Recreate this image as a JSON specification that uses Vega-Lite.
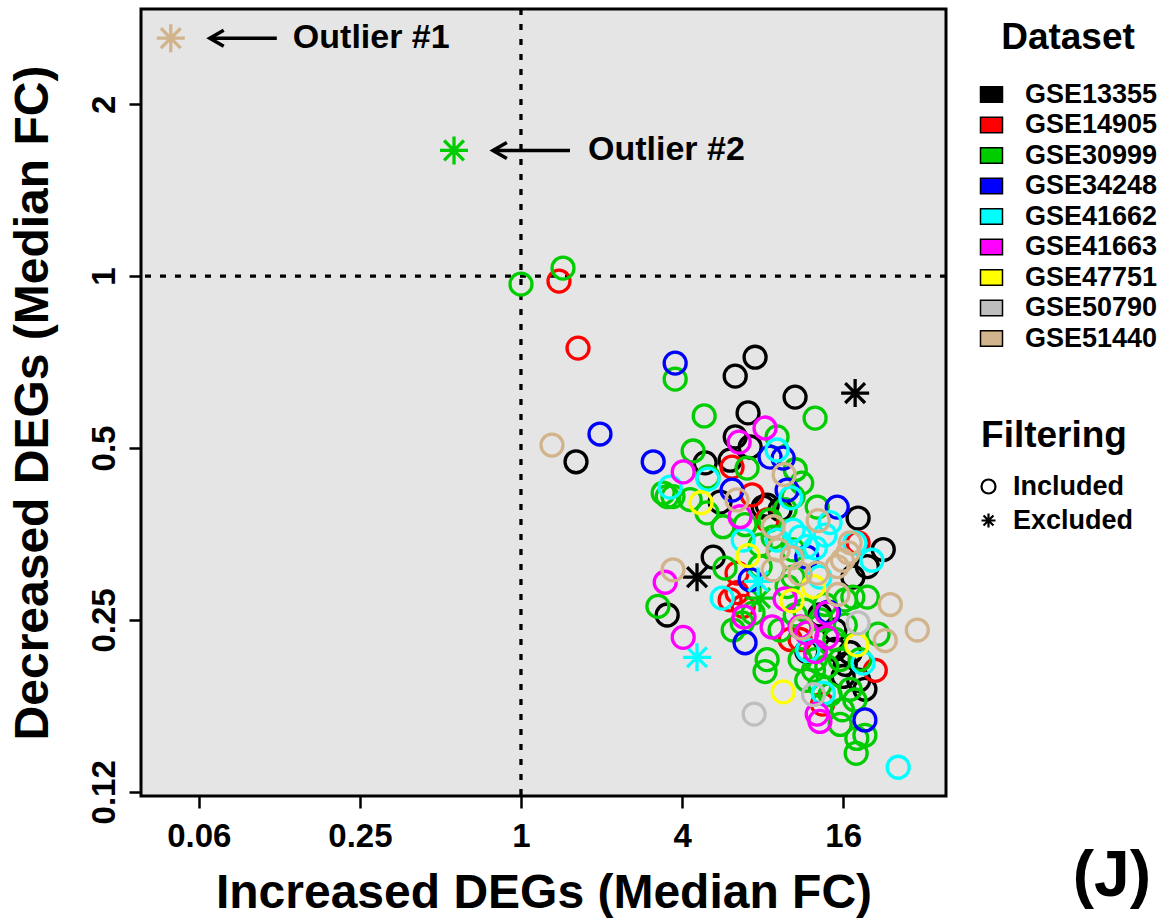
{
  "$schema": "https://vega.github.io/schema/vega-lite/v6.json",
  "autosize": {"type": "none"},
  "padding": {"left": 141, "top": 9, "right": 222, "bottom": 123},
  "width": 805,
  "height": 787,
  "background": "white",
  "title": {"text": "(J)", "orient": "bottom", "anchor": "end", "frame": "group", "fontSize": 64, "fontWeight": "bold", "font": "Liberation Sans", "color": "black", "offset": 0, "dx": 205, "dy": -72},
  "config": {
    "font": "Liberation Sans",
    "view": {"fill": "#E5E5E5", "stroke": "black", "strokeWidth": 3},
    "axis": {"domain": false, "grid": false, "tickColor": "black", "tickWidth": 2.5, "tickSize": 12, "labelFont": "Liberation Sans", "labelFontSize": 33, "labelFontWeight": "bold", "labelColor": "black", "titleFont": "Liberation Sans", "titleFontSize": 48, "titleFontWeight": "bold", "titleColor": "black", "labelFlush": false, "labelOverlap": false},
    "legend": {"labelFont": "Liberation Sans", "labelFontSize": 27, "labelFontWeight": "bold", "labelColor": "black", "titleFont": "Liberation Sans", "titleFontSize": 37, "titleFontWeight": "bold", "titleColor": "black", "titleAnchor": "middle", "padding": 0}
  },
  "datasets": {
    "reference": [{"fc": 1}],
    "degs": [
      {"dataset": "GSE13355", "filtering": "Included", "increased": 1.606, "decreased": 0.473},
      {"dataset": "GSE13355", "filtering": "Included", "increased": 6.32, "decreased": 0.668},
      {"dataset": "GSE13355", "filtering": "Included", "increased": 7.5, "decreased": 0.721},
      {"dataset": "GSE13355", "filtering": "Included", "increased": 10.58, "decreased": 0.614},
      {"dataset": "GSE13355", "filtering": "Included", "increased": 7.06, "decreased": 0.576},
      {"dataset": "GSE13355", "filtering": "Included", "increased": 6.32, "decreased": 0.523},
      {"dataset": "GSE13355", "filtering": "Included", "increased": 7.19, "decreased": 0.502},
      {"dataset": "GSE13355", "filtering": "Included", "increased": 4.88, "decreased": 0.471},
      {"dataset": "GSE13355", "filtering": "Included", "increased": 6.05, "decreased": 0.476},
      {"dataset": "GSE13355", "filtering": "Included", "increased": 8.04, "decreased": 0.394},
      {"dataset": "GSE13355", "filtering": "Included", "increased": 5.55, "decreased": 0.402},
      {"dataset": "GSE13355", "filtering": "Included", "increased": 8.32, "decreased": 0.397},
      {"dataset": "GSE13355", "filtering": "Included", "increased": 9.3, "decreased": 0.39},
      {"dataset": "GSE13355", "filtering": "Included", "increased": 18.2, "decreased": 0.377},
      {"dataset": "GSE13355", "filtering": "Included", "increased": 22.6, "decreased": 0.332},
      {"dataset": "GSE13355", "filtering": "Included", "increased": 17.4, "decreased": 0.297},
      {"dataset": "GSE13355", "filtering": "Included", "increased": 19.7, "decreased": 0.31},
      {"dataset": "GSE13355", "filtering": "Included", "increased": 5.23, "decreased": 0.322},
      {"dataset": "GSE13355", "filtering": "Included", "increased": 3.52, "decreased": 0.255},
      {"dataset": "GSE13355", "filtering": "Included", "increased": 18.3, "decreased": 0.196},
      {"dataset": "GSE13355", "filtering": "Included", "increased": 11.7, "decreased": 0.22},
      {"dataset": "GSE13355", "filtering": "Included", "increased": 16.0, "decreased": 0.199},
      {"dataset": "GSE13355", "filtering": "Included", "increased": 17.0, "decreased": 0.219},
      {"dataset": "GSE13355", "filtering": "Included", "increased": 14.9, "decreased": 0.222},
      {"dataset": "GSE13355", "filtering": "Included", "increased": 16.3, "decreased": 0.209},
      {"dataset": "GSE13355", "filtering": "Included", "increased": 19.3, "decreased": 0.189},
      {"dataset": "GSE13355", "filtering": "Included", "increased": 14.9, "decreased": 0.24},
      {"dataset": "GSE13355", "filtering": "Included", "increased": 13.1, "decreased": 0.255},
      {"dataset": "GSE13355", "filtering": "Excluded", "increased": 17.74, "decreased": 0.624},
      {"dataset": "GSE13355", "filtering": "Excluded", "increased": 4.55, "decreased": 0.297},
      {"dataset": "GSE14905", "filtering": "Included", "increased": 1.387, "decreased": 0.98},
      {"dataset": "GSE14905", "filtering": "Included", "increased": 1.634, "decreased": 0.748},
      {"dataset": "GSE14905", "filtering": "Included", "increased": 6.15, "decreased": 0.463},
      {"dataset": "GSE14905", "filtering": "Included", "increased": 7.31, "decreased": 0.414},
      {"dataset": "GSE14905", "filtering": "Included", "increased": 8.32, "decreased": 0.374},
      {"dataset": "GSE14905", "filtering": "Included", "increased": 6.42, "decreased": 0.302},
      {"dataset": "GSE14905", "filtering": "Included", "increased": 6.05, "decreased": 0.271},
      {"dataset": "GSE14905", "filtering": "Included", "increased": 6.77, "decreased": 0.264},
      {"dataset": "GSE14905", "filtering": "Included", "increased": 6.42, "decreased": 0.279},
      {"dataset": "GSE14905", "filtering": "Included", "increased": 18.2, "decreased": 0.341},
      {"dataset": "GSE14905", "filtering": "Included", "increased": 21.1, "decreased": 0.204},
      {"dataset": "GSE14905", "filtering": "Included", "increased": 13.4, "decreased": 0.178},
      {"dataset": "GSE14905", "filtering": "Included", "increased": 11.05, "decreased": 0.231},
      {"dataset": "GSE14905", "filtering": "Included", "increased": 10.14, "decreased": 0.231},
      {"dataset": "GSE30999", "filtering": "Included", "increased": 1.0, "decreased": 0.968},
      {"dataset": "GSE30999", "filtering": "Included", "increased": 1.436, "decreased": 1.033},
      {"dataset": "GSE30999", "filtering": "Included", "increased": 3.77, "decreased": 0.66},
      {"dataset": "GSE30999", "filtering": "Included", "increased": 4.84, "decreased": 0.569},
      {"dataset": "GSE30999", "filtering": "Included", "increased": 12.57, "decreased": 0.564},
      {"dataset": "GSE30999", "filtering": "Included", "increased": 4.4, "decreased": 0.494},
      {"dataset": "GSE30999", "filtering": "Included", "increased": 3.4, "decreased": 0.417},
      {"dataset": "GSE30999", "filtering": "Included", "increased": 3.52, "decreased": 0.411},
      {"dataset": "GSE30999", "filtering": "Included", "increased": 3.7, "decreased": 0.411},
      {"dataset": "GSE30999", "filtering": "Included", "increased": 5.0, "decreased": 0.445},
      {"dataset": "GSE30999", "filtering": "Included", "increased": 7.0, "decreased": 0.461},
      {"dataset": "GSE30999", "filtering": "Included", "increased": 4.96, "decreased": 0.385},
      {"dataset": "GSE30999", "filtering": "Included", "increased": 5.69, "decreased": 0.364},
      {"dataset": "GSE30999", "filtering": "Included", "increased": 8.76, "decreased": 0.349},
      {"dataset": "GSE30999", "filtering": "Included", "increased": 9.06, "decreased": 0.523},
      {"dataset": "GSE30999", "filtering": "Included", "increased": 11.2, "decreased": 0.434},
      {"dataset": "GSE30999", "filtering": "Included", "increased": 10.4, "decreased": 0.411},
      {"dataset": "GSE30999", "filtering": "Included", "increased": 12.8, "decreased": 0.394},
      {"dataset": "GSE30999", "filtering": "Included", "increased": 5.79, "decreased": 0.308},
      {"dataset": "GSE30999", "filtering": "Included", "increased": 10.4, "decreased": 0.3315},
      {"dataset": "GSE30999", "filtering": "Included", "increased": 3.25, "decreased": 0.264},
      {"dataset": "GSE30999", "filtering": "Included", "increased": 7.83, "decreased": 0.31},
      {"dataset": "GSE30999", "filtering": "Included", "increased": 9.88, "decreased": 0.286},
      {"dataset": "GSE30999", "filtering": "Included", "increased": 7.37, "decreased": 0.257},
      {"dataset": "GSE30999", "filtering": "Included", "increased": 6.71, "decreased": 0.247},
      {"dataset": "GSE30999", "filtering": "Included", "increased": 6.21, "decreased": 0.24},
      {"dataset": "GSE30999", "filtering": "Included", "increased": 8.32, "decreased": 0.213},
      {"dataset": "GSE30999", "filtering": "Included", "increased": 8.17, "decreased": 0.203},
      {"dataset": "GSE30999", "filtering": "Included", "increased": 15.9, "decreased": 0.174},
      {"dataset": "GSE30999", "filtering": "Included", "increased": 19.3, "decreased": 0.157},
      {"dataset": "GSE30999", "filtering": "Included", "increased": 18.0, "decreased": 0.155},
      {"dataset": "GSE30999", "filtering": "Included", "increased": 17.9, "decreased": 0.146},
      {"dataset": "GSE30999", "filtering": "Included", "increased": 21.6, "decreased": 0.236},
      {"dataset": "GSE30999", "filtering": "Included", "increased": 17.4, "decreased": 0.274},
      {"dataset": "GSE30999", "filtering": "Included", "increased": 19.7, "decreased": 0.274},
      {"dataset": "GSE30999", "filtering": "Included", "increased": 13.9, "decreased": 0.207},
      {"dataset": "GSE30999", "filtering": "Included", "increased": 15.6, "decreased": 0.213},
      {"dataset": "GSE30999", "filtering": "Included", "increased": 12.4, "decreased": 0.204},
      {"dataset": "GSE30999", "filtering": "Included", "increased": 11.7, "decreased": 0.196},
      {"dataset": "GSE30999", "filtering": "Included", "increased": 10.4, "decreased": 0.297},
      {"dataset": "GSE30999", "filtering": "Included", "increased": 13.13, "decreased": 0.25},
      {"dataset": "GSE30999", "filtering": "Included", "increased": 16.3, "decreased": 0.245},
      {"dataset": "GSE30999", "filtering": "Included", "increased": 14.9, "decreased": 0.231},
      {"dataset": "GSE30999", "filtering": "Included", "increased": 11.5, "decreased": 0.26},
      {"dataset": "GSE30999", "filtering": "Included", "increased": 17.0, "decreased": 0.189},
      {"dataset": "GSE30999", "filtering": "Included", "increased": 14.3, "decreased": 0.185},
      {"dataset": "GSE30999", "filtering": "Included", "increased": 12.6, "decreased": 0.213},
      {"dataset": "GSE30999", "filtering": "Included", "increased": 10.6, "decreased": 0.458},
      {"dataset": "GSE30999", "filtering": "Included", "increased": 9.71, "decreased": 0.39},
      {"dataset": "GSE30999", "filtering": "Included", "increased": 6.88, "decreased": 0.367},
      {"dataset": "GSE30999", "filtering": "Included", "increased": 7.83, "decreased": 0.338},
      {"dataset": "GSE30999", "filtering": "Included", "increased": 16.3, "decreased": 0.271},
      {"dataset": "GSE30999", "filtering": "Included", "increased": 13.7, "decreased": 0.266},
      {"dataset": "GSE30999", "filtering": "Included", "increased": 18.5, "decreased": 0.213},
      {"dataset": "GSE30999", "filtering": "Included", "increased": 13.1, "decreased": 0.192},
      {"dataset": "GSE30999", "filtering": "Included", "increased": 11.05, "decreased": 0.213},
      {"dataset": "GSE30999", "filtering": "Included", "increased": 10.6, "decreased": 0.255},
      {"dataset": "GSE30999", "filtering": "Included", "increased": 8.53, "decreased": 0.374},
      {"dataset": "GSE30999", "filtering": "Included", "increased": 4.29, "decreased": 0.406},
      {"dataset": "GSE30999", "filtering": "Included", "increased": 17.7, "decreased": 0.181},
      {"dataset": "GSE30999", "filtering": "Included", "increased": 15.6, "decreased": 0.164},
      {"dataset": "GSE30999", "filtering": "Included", "increased": 9.3, "decreased": 0.24},
      {"dataset": "GSE30999", "filtering": "Excluded", "increased": 0.562, "decreased": 1.66},
      {"dataset": "GSE30999", "filtering": "Excluded", "increased": 7.83, "decreased": 0.273},
      {"dataset": "GSE34248", "filtering": "Included", "increased": 1.974, "decreased": 0.529},
      {"dataset": "GSE34248", "filtering": "Included", "increased": 3.77, "decreased": 0.704},
      {"dataset": "GSE34248", "filtering": "Included", "increased": 3.12, "decreased": 0.473},
      {"dataset": "GSE34248", "filtering": "Included", "increased": 6.15, "decreased": 0.422},
      {"dataset": "GSE34248", "filtering": "Included", "increased": 8.53, "decreased": 0.482},
      {"dataset": "GSE34248", "filtering": "Included", "increased": 9.55, "decreased": 0.48},
      {"dataset": "GSE34248", "filtering": "Included", "increased": 9.88, "decreased": 0.422},
      {"dataset": "GSE34248", "filtering": "Included", "increased": 15.2, "decreased": 0.394},
      {"dataset": "GSE34248", "filtering": "Included", "increased": 7.19, "decreased": 0.294},
      {"dataset": "GSE34248", "filtering": "Included", "increased": 6.88, "decreased": 0.228},
      {"dataset": "GSE34248", "filtering": "Included", "increased": 14.1, "decreased": 0.258},
      {"dataset": "GSE34248", "filtering": "Included", "increased": 19.3, "decreased": 0.167},
      {"dataset": "GSE34248", "filtering": "Included", "increased": 11.7, "decreased": 0.322},
      {"dataset": "GSE41662", "filtering": "Included", "increased": 3.61, "decreased": 0.427},
      {"dataset": "GSE41662", "filtering": "Included", "increased": 5.0, "decreased": 0.441},
      {"dataset": "GSE41662", "filtering": "Included", "increased": 9.06, "decreased": 0.496},
      {"dataset": "GSE41662", "filtering": "Included", "increased": 10.2, "decreased": 0.409},
      {"dataset": "GSE41662", "filtering": "Included", "increased": 14.3, "decreased": 0.37},
      {"dataset": "GSE41662", "filtering": "Included", "increased": 17.7, "decreased": 0.341},
      {"dataset": "GSE41662", "filtering": "Included", "increased": 11.05, "decreased": 0.349},
      {"dataset": "GSE41662", "filtering": "Included", "increased": 6.77, "decreased": 0.345},
      {"dataset": "GSE41662", "filtering": "Included", "increased": 11.7, "decreased": 0.336},
      {"dataset": "GSE41662", "filtering": "Included", "increased": 13.1, "decreased": 0.297},
      {"dataset": "GSE41662", "filtering": "Included", "increased": 20.5, "decreased": 0.318},
      {"dataset": "GSE41662", "filtering": "Included", "increased": 5.65, "decreased": 0.273},
      {"dataset": "GSE41662", "filtering": "Included", "increased": 13.5, "decreased": 0.186},
      {"dataset": "GSE41662", "filtering": "Included", "increased": 19.0, "decreased": 0.21},
      {"dataset": "GSE41662", "filtering": "Included", "increased": 11.8, "decreased": 0.221},
      {"dataset": "GSE41662", "filtering": "Included", "increased": 25.7, "decreased": 0.138},
      {"dataset": "GSE41662", "filtering": "Included", "increased": 12.6, "decreased": 0.334},
      {"dataset": "GSE41662", "filtering": "Included", "increased": 13.7, "decreased": 0.352},
      {"dataset": "GSE41662", "filtering": "Included", "increased": 10.4, "decreased": 0.359},
      {"dataset": "GSE41662", "filtering": "Included", "increased": 9.06, "decreased": 0.345},
      {"dataset": "GSE41662", "filtering": "Excluded", "increased": 4.55, "decreased": 0.215},
      {"dataset": "GSE41662", "filtering": "Excluded", "increased": 7.7, "decreased": 0.292},
      {"dataset": "GSE41663", "filtering": "Included", "increased": 4.04, "decreased": 0.454},
      {"dataset": "GSE41663", "filtering": "Included", "increased": 8.17, "decreased": 0.542},
      {"dataset": "GSE41663", "filtering": "Included", "increased": 6.54, "decreased": 0.512},
      {"dataset": "GSE41663", "filtering": "Included", "increased": 6.59, "decreased": 0.379},
      {"dataset": "GSE41663", "filtering": "Included", "increased": 3.46, "decreased": 0.291},
      {"dataset": "GSE41663", "filtering": "Included", "increased": 4.04, "decreased": 0.233},
      {"dataset": "GSE41663", "filtering": "Included", "increased": 6.82, "decreased": 0.253},
      {"dataset": "GSE41663", "filtering": "Included", "increased": 8.68, "decreased": 0.243},
      {"dataset": "GSE41663", "filtering": "Included", "increased": 9.71, "decreased": 0.272},
      {"dataset": "GSE41663", "filtering": "Included", "increased": 11.7, "decreased": 0.237},
      {"dataset": "GSE41663", "filtering": "Included", "increased": 12.6, "decreased": 0.22},
      {"dataset": "GSE41663", "filtering": "Included", "increased": 13.9, "decreased": 0.233},
      {"dataset": "GSE41663", "filtering": "Included", "increased": 12.8, "decreased": 0.171},
      {"dataset": "GSE41663", "filtering": "Included", "increased": 13.1, "decreased": 0.166},
      {"dataset": "GSE41663", "filtering": "Included", "increased": 11.05, "decreased": 0.243},
      {"dataset": "GSE41663", "filtering": "Included", "increased": 13.9, "decreased": 0.257},
      {"dataset": "GSE47751", "filtering": "Included", "increased": 4.71, "decreased": 0.401},
      {"dataset": "GSE47751", "filtering": "Included", "increased": 7.06, "decreased": 0.324},
      {"dataset": "GSE47751", "filtering": "Included", "increased": 10.3, "decreased": 0.27},
      {"dataset": "GSE47751", "filtering": "Included", "increased": 12.4, "decreased": 0.286},
      {"dataset": "GSE47751", "filtering": "Included", "increased": 18.0, "decreased": 0.226},
      {"dataset": "GSE47751", "filtering": "Included", "increased": 9.55, "decreased": 0.187},
      {"dataset": "GSE50790", "filtering": "Included", "increased": 7.44, "decreased": 0.171},
      {"dataset": "GSE50790", "filtering": "Included", "increased": 12.4, "decreased": 0.185},
      {"dataset": "GSE50790", "filtering": "Included", "increased": 18.2, "decreased": 0.247},
      {"dataset": "GSE51440", "filtering": "Included", "increased": 1.306, "decreased": 0.506},
      {"dataset": "GSE51440", "filtering": "Included", "increased": 6.42, "decreased": 0.4055},
      {"dataset": "GSE51440", "filtering": "Included", "increased": 9.63, "decreased": 0.449},
      {"dataset": "GSE51440", "filtering": "Included", "increased": 8.76, "decreased": 0.364},
      {"dataset": "GSE51440", "filtering": "Included", "increased": 12.9, "decreased": 0.373},
      {"dataset": "GSE51440", "filtering": "Included", "increased": 17.0, "decreased": 0.341},
      {"dataset": "GSE51440", "filtering": "Included", "increased": 16.7, "decreased": 0.328},
      {"dataset": "GSE51440", "filtering": "Included", "increased": 15.9, "decreased": 0.318},
      {"dataset": "GSE51440", "filtering": "Included", "increased": 15.2, "decreased": 0.31},
      {"dataset": "GSE51440", "filtering": "Included", "increased": 9.14, "decreased": 0.3315},
      {"dataset": "GSE51440", "filtering": "Included", "increased": 8.76, "decreased": 0.306},
      {"dataset": "GSE51440", "filtering": "Included", "increased": 11.05, "decreased": 0.301},
      {"dataset": "GSE51440", "filtering": "Included", "increased": 12.8, "decreased": 0.302},
      {"dataset": "GSE51440", "filtering": "Included", "increased": 15.3, "decreased": 0.277},
      {"dataset": "GSE51440", "filtering": "Included", "increased": 11.2, "decreased": 0.242},
      {"dataset": "GSE51440", "filtering": "Included", "increased": 24.0, "decreased": 0.266},
      {"dataset": "GSE51440", "filtering": "Included", "increased": 30.3, "decreased": 0.24},
      {"dataset": "GSE51440", "filtering": "Included", "increased": 23.0, "decreased": 0.23},
      {"dataset": "GSE51440", "filtering": "Included", "increased": 3.7, "decreased": 0.306},
      {"dataset": "GSE51440", "filtering": "Included", "increased": 10.3, "decreased": 0.321},
      {"dataset": "GSE51440", "filtering": "Excluded", "increased": 0.0491, "decreased": 2.61}
    ],
    "arrows": [
      {"label": "Outlier #1", "tip": 0.0687, "tail": 0.1223, "text_at": 0.1404, "level": 2.61},
      {"label": "Outlier #2", "tip": 0.7856, "tail": 1.525, "text_at": 1.78, "level": 1.66}
    ]
  },
  "layer": [
    {
      "data": {"name": "reference"},
      "mark": {"type": "rule", "color": "black", "strokeWidth": 3.3, "strokeDash": [6, 9]},
      "encoding": {"x": {"field": "fc", "type": "quantitative"}}
    },
    {
      "data": {"name": "reference"},
      "mark": {"type": "rule", "color": "black", "strokeWidth": 3.3, "strokeDash": [6, 9]},
      "encoding": {"y": {"field": "fc", "type": "quantitative"}}
    },
    {
      "data": {"name": "degs"},
      "mark": {"type": "point", "filled": false, "strokeWidth": 3.3, "opacity": 1},
      "encoding": {
        "x": {
          "field": "increased", "type": "quantitative",
          "title": "Increased DEGs (Median FC)",
          "scale": {"type": "log", "base": 2, "domain": [0.038, 38.78], "nice": false, "zero": false},
          "axis": {"values": [0.0625, 0.25, 1, 4, 16], "labelExpr": "datum.value == 0.0625 ? '0.06' : datum.value == 0.25 ? '0.25' : datum.value == 1 ? '1' : datum.value == 4 ? '4' : '16'", "labelPadding": 12, "titlePadding": 16}
        },
        "y": {
          "field": "decreased", "type": "quantitative",
          "title": "Decreased DEGs (Median FC)",
          "scale": {"type": "log", "base": 2, "domain": [0.1229, 2.936], "nice": false, "zero": false},
          "axis": {"values": [0.125, 0.25, 0.5, 1, 2], "labelExpr": "datum.value == 0.125 ? '0.12' : datum.value == 0.25 ? '0.25' : datum.value == 0.5 ? '0.5' : datum.value == 1 ? '1' : '2'", "labelAngle": 270, "labelAlign": "center", "labelBaseline": "bottom", "labelPadding": 8, "titlePadding": 31}
        },
        "color": {
          "field": "dataset", "type": "nominal",
          "scale": {"range": ["#000000", "#FF0000", "#00CD00", "#0000FF", "#00FFFF", "#FF00FF", "#FFFF00", "#BEBEBE", "#D2B48C"]},
          "legend": null
        },
        "shape": {
          "field": "filtering", "type": "nominal",
          "scale": {"domain": ["Included", "Excluded"], "range": ["circle", "M0,-1L0,1M-1,0L1,0M-0.707,-0.707L0.707,0.707M-0.707,0.707L0.707,-0.707"]},
          "legend": {
            "title": "Filtering", "orient": "none", "legendX": 834, "legendY": 409,
            "symbolSize": 196, "symbolStrokeColor": "black", "symbolStrokeWidth": 2.2, "symbolFillColor": "transparent", "labelOffset": 11, "rowPadding": 6, "titlePadding": 18
          }
        },
        "size": {"condition": {"test": "datum.filtering === 'Excluded'", "value": 784}, "value": 483}
      }
    },
    {
      "data": {"name": "degs"},
      "transform": [{"filter": "false"}],
      "mark": {"type": "point", "filled": true, "opacity": 1},
      "encoding": {
        "x": {"field": "increased", "type": "quantitative"},
        "y": {"field": "decreased", "type": "quantitative"},
        "fill": {
          "field": "dataset", "type": "nominal",
          "scale": {"domain": ["GSE13355", "GSE14905", "GSE30999", "GSE34248", "GSE41662", "GSE41663", "GSE47751", "GSE50790", "GSE51440"], "range": ["#000000", "#FF0000", "#00CD00", "#0000FF", "#00FFFF", "#FF00FF", "#FFFF00", "#BEBEBE", "#D2B48C"]},
          "legend": {
            "title": "Dataset", "orient": "none", "legendX": 837, "legendY": 11,
            "symbolType": "M-1,-0.7H1V0.7H-1Z", "symbolSize": 484, "labelOffset": 20, "rowPadding": 2.5, "titlePadding": 24,
            "symbolStrokeColor": "black", "symbolStrokeWidth": 1.5, "symbolOpacity": 1
          }
        }
      }
    },
    {
      "data": {"name": "arrows"},
      "mark": {"type": "rule", "color": "black", "strokeWidth": 3.5},
      "encoding": {
        "x": {"field": "tip", "type": "quantitative"},
        "x2": {"field": "tail"},
        "y": {"field": "level", "type": "quantitative"}
      }
    },
    {
      "data": {"name": "arrows"},
      "mark": {"type": "point", "filled": false, "color": "black", "strokeWidth": 3.5, "opacity": 1, "size": 1024, "shape": "M0.87,-0.5L0,0L0.87,0.5"},
      "encoding": {
        "x": {"field": "tip", "type": "quantitative"},
        "y": {"field": "level", "type": "quantitative"}
      }
    },
    {
      "data": {"name": "arrows"},
      "mark": {"type": "text", "align": "left", "baseline": "middle", "fontSize": 34, "fontWeight": "bold", "color": "black", "font": "Liberation Sans"},
      "encoding": {
        "x": {"field": "text_at", "type": "quantitative"},
        "y": {"field": "level", "type": "quantitative"},
        "text": {"field": "label"}
      }
    }
  ]
}
